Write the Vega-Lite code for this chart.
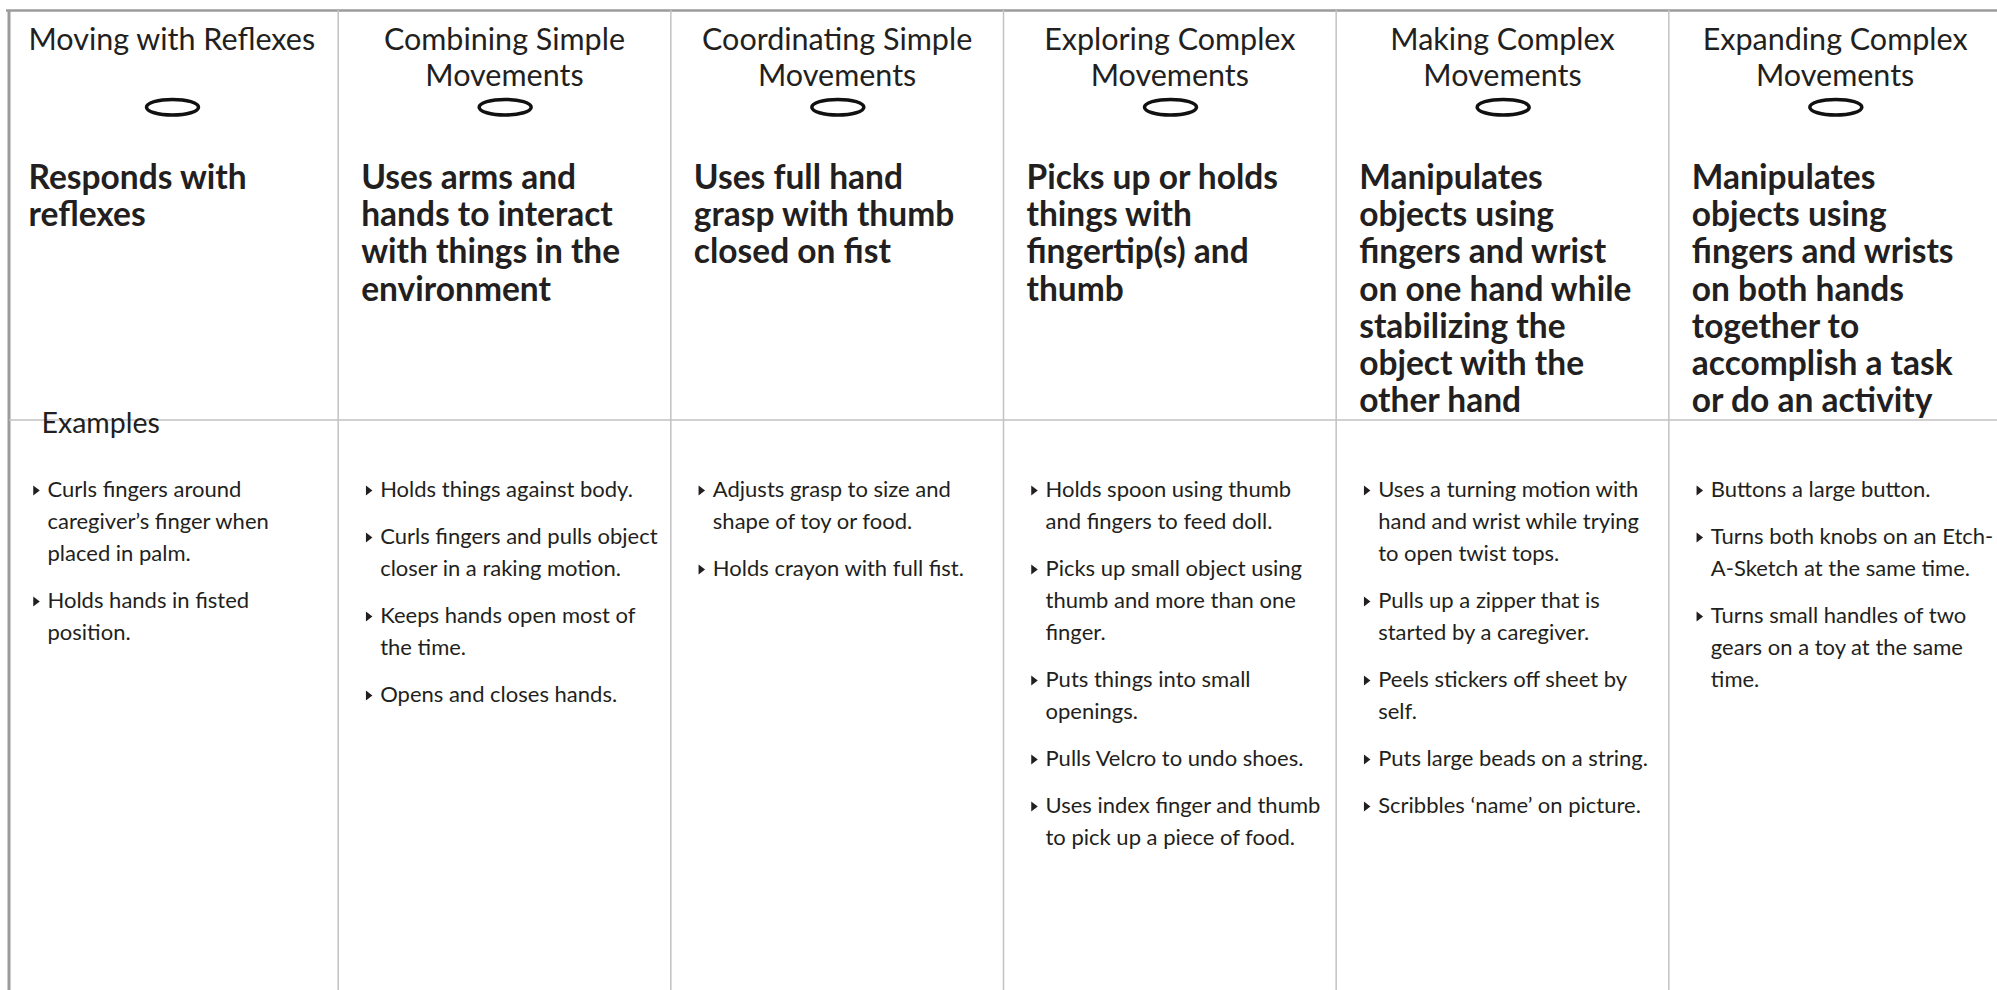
{
  "$schema": "https://vega.github.io/schema/vega-lite/v6.json",
  "width": 1988,
  "height": 980,
  "padding": {"left": 9, "top": 10, "right": 0, "bottom": 0},
  "autosize": {"type": "none"},
  "background": "white",
  "config": {
    "view": {"stroke": null},
    "axis": {"labels": false, "ticks": false, "grid": false, "title": null, "domainColor": "#9b9b9b", "domainWidth": 2.5}
  },
  "datasets": {
    "stages": [
      {"col": 1, "stage": "Moving with Reflexes"},
      {"col": 2, "stage": "Combining Simple Movements"},
      {"col": 3, "stage": "Coordinating Simple Movements"},
      {"col": 4, "stage": "Exploring Complex Movements"},
      {"col": 5, "stage": "Making Complex Movements"},
      {"col": 6, "stage": "Expanding Complex Movements"}
    ],
    "sections": [{"section": "Examples"}],
    "titles": [
      {"col": 1, "line": 1, "text": "Moving with Reflexes"},
      {"col": 2, "line": 1, "text": "Combining Simple"},
      {"col": 2, "line": 2, "text": "Movements"},
      {"col": 3, "line": 1, "text": "Coordinating Simple"},
      {"col": 3, "line": 2, "text": "Movements"},
      {"col": 4, "line": 1, "text": "Exploring Complex"},
      {"col": 4, "line": 2, "text": "Movements"},
      {"col": 5, "line": 1, "text": "Making Complex"},
      {"col": 5, "line": 2, "text": "Movements"},
      {"col": 6, "line": 1, "text": "Expanding Complex"},
      {"col": 6, "line": 2, "text": "Movements"}
    ],
    "statements": [
      {"col": 1, "line": 1, "text": "Responds with"},
      {"col": 1, "line": 2, "text": "reflexes"},
      {"col": 2, "line": 1, "text": "Uses arms and"},
      {"col": 2, "line": 2, "text": "hands to interact"},
      {"col": 2, "line": 3, "text": "with things in the"},
      {"col": 2, "line": 4, "text": "environment"},
      {"col": 3, "line": 1, "text": "Uses full hand"},
      {"col": 3, "line": 2, "text": "grasp with thumb"},
      {"col": 3, "line": 3, "text": "closed on fist"},
      {"col": 4, "line": 1, "text": "Picks up or holds"},
      {"col": 4, "line": 2, "text": "things with"},
      {"col": 4, "line": 3, "text": "fingertip(s) and"},
      {"col": 4, "line": 4, "text": "thumb"},
      {"col": 5, "line": 1, "text": "Manipulates"},
      {"col": 5, "line": 2, "text": "objects using"},
      {"col": 5, "line": 3, "text": "fingers and wrist"},
      {"col": 5, "line": 4, "text": "on one hand while"},
      {"col": 5, "line": 5, "text": "stabilizing the"},
      {"col": 5, "line": 6, "text": "object with the"},
      {"col": 5, "line": 7, "text": "other hand"},
      {"col": 6, "line": 1, "text": "Manipulates"},
      {"col": 6, "line": 2, "text": "objects using"},
      {"col": 6, "line": 3, "text": "fingers and wrists"},
      {"col": 6, "line": 4, "text": "on both hands"},
      {"col": 6, "line": 5, "text": "together to"},
      {"col": 6, "line": 6, "text": "accomplish a task"},
      {"col": 6, "line": 7, "text": "or do an activity"}
    ],
    "examples": [
      {"col": 1, "item": 0, "line": 0, "sub": 0, "text": "Curls fingers around"},
      {"col": 1, "item": 0, "line": 1, "sub": 1, "text": "caregiver’s finger when"},
      {"col": 1, "item": 0, "line": 2, "sub": 2, "text": "placed in palm."},
      {"col": 1, "item": 1, "line": 3, "sub": 0, "text": "Holds hands in fisted"},
      {"col": 1, "item": 1, "line": 4, "sub": 1, "text": "position."},
      {"col": 2, "item": 0, "line": 0, "sub": 0, "text": "Holds things against body."},
      {"col": 2, "item": 1, "line": 1, "sub": 0, "text": "Curls fingers and pulls object"},
      {"col": 2, "item": 1, "line": 2, "sub": 1, "text": "closer in a raking motion."},
      {"col": 2, "item": 2, "line": 3, "sub": 0, "text": "Keeps hands open most of"},
      {"col": 2, "item": 2, "line": 4, "sub": 1, "text": "the time."},
      {"col": 2, "item": 3, "line": 5, "sub": 0, "text": "Opens and closes hands."},
      {"col": 3, "item": 0, "line": 0, "sub": 0, "text": "Adjusts grasp to size and"},
      {"col": 3, "item": 0, "line": 1, "sub": 1, "text": "shape of toy or food."},
      {"col": 3, "item": 1, "line": 2, "sub": 0, "text": "Holds crayon with full fist."},
      {"col": 4, "item": 0, "line": 0, "sub": 0, "text": "Holds spoon using thumb"},
      {"col": 4, "item": 0, "line": 1, "sub": 1, "text": "and fingers to feed doll."},
      {"col": 4, "item": 1, "line": 2, "sub": 0, "text": "Picks up small object using"},
      {"col": 4, "item": 1, "line": 3, "sub": 1, "text": "thumb and more than one"},
      {"col": 4, "item": 1, "line": 4, "sub": 2, "text": "finger."},
      {"col": 4, "item": 2, "line": 5, "sub": 0, "text": "Puts things into small"},
      {"col": 4, "item": 2, "line": 6, "sub": 1, "text": "openings."},
      {"col": 4, "item": 3, "line": 7, "sub": 0, "text": "Pulls Velcro to undo shoes."},
      {"col": 4, "item": 4, "line": 8, "sub": 0, "text": "Uses index finger and thumb"},
      {"col": 4, "item": 4, "line": 9, "sub": 1, "text": "to pick up a piece of food."},
      {"col": 5, "item": 0, "line": 0, "sub": 0, "text": "Uses a turning motion with"},
      {"col": 5, "item": 0, "line": 1, "sub": 1, "text": "hand and wrist while trying"},
      {"col": 5, "item": 0, "line": 2, "sub": 2, "text": "to open twist tops."},
      {"col": 5, "item": 1, "line": 3, "sub": 0, "text": "Pulls up a zipper that is"},
      {"col": 5, "item": 1, "line": 4, "sub": 1, "text": "started by a caregiver."},
      {"col": 5, "item": 2, "line": 5, "sub": 0, "text": "Peels stickers off sheet by"},
      {"col": 5, "item": 2, "line": 6, "sub": 1, "text": "self."},
      {"col": 5, "item": 3, "line": 7, "sub": 0, "text": "Puts large beads on a string."},
      {"col": 5, "item": 4, "line": 8, "sub": 0, "text": "Scribbles ‘name’ on picture."},
      {"col": 6, "item": 0, "line": 0, "sub": 0, "text": "Buttons a large button."},
      {"col": 6, "item": 1, "line": 1, "sub": 0, "text": "Turns both knobs on an Etch-"},
      {"col": 6, "item": 1, "line": 2, "sub": 1, "text": "A-Sketch at the same time."},
      {"col": 6, "item": 2, "line": 3, "sub": 0, "text": "Turns small handles of two"},
      {"col": 6, "item": 2, "line": 4, "sub": 1, "text": "gears on a toy at the same"},
      {"col": 6, "item": 2, "line": 5, "sub": 2, "text": "time."}
    ]
  },
  "resolve": {"scale": {"y": "independent"}},
  "layer": [
    {
      "data": {"name": "stages"},
      "transform": [{"filter": "datum.col > 1"}],
      "mark": {"type": "rule", "color": "#c2c2c2", "strokeWidth": 1.5},
      "encoding": {
        "x": {"field": "col", "type": "quantitative", "scale": {"domain": [1, 7], "range": [-3.5, 1992.5], "nice": false, "zero": false}, "axis": {"orient": "top"}}
      }
    },
    {
      "data": {"name": "stages"},
      "transform": [{"filter": "datum.col == 1"}],
      "mark": {"type": "rule", "color": "#9b9b9b", "strokeWidth": 3, "xOffset": 3.5},
      "encoding": {
        "x": {"field": "col", "type": "quantitative", "axis": {"orient": "top"}}
      }
    },
    {
      "data": {"name": "sections"},
      "mark": {"type": "rule", "color": "#c2c2c2", "strokeWidth": 1.5},
      "encoding": {
        "y": {"field": "section", "type": "nominal", "scale": {"type": "point", "range": [410, 410]}, "axis": null}
      }
    },
    {
      "data": {"name": "sections"},
      "mark": {"type": "text", "align": "left", "baseline": "alphabetic", "font": "Lato", "fontSize": 28.5, "color": "#231f20", "xOffset": 36},
      "encoding": {
        "x": {"datum": 1, "type": "quantitative", "axis": {"orient": "top"}},
        "y": {"field": "section", "type": "nominal", "scale": {"type": "point", "range": [423, 423]}, "axis": null},
        "text": {"field": "section"}
      }
    },
    {
      "data": {"name": "titles"},
      "mark": {"type": "text", "align": "center", "baseline": "alphabetic", "font": "Lato", "fontSize": 30.5, "color": "#231f20", "xOffset": 166.3},
      "encoding": {
        "x": {"field": "col", "type": "quantitative", "axis": {"orient": "top"}},
        "y": {"field": "line", "type": "quantitative", "scale": {"domain": [1, 2], "range": [39.5, 75.5], "nice": false, "zero": false}, "axis": null},
        "text": {"field": "text"}
      }
    },
    {
      "data": {"name": "stages"},
      "mark": {"type": "point", "shape": "M -1 0 C -1 -0.166 -0.552 -0.3 0 -0.3 C 0.552 -0.3 1 -0.166 1 0 C 1 0.166 0.552 0.3 0 0.3 C -0.552 0.3 -1 0.166 -1 0 Z", "size": 2704, "filled": false, "stroke": "#111111", "strokeWidth": 3.5, "opacity": 1, "xOffset": 167},
      "encoding": {
        "x": {"field": "col", "type": "quantitative", "axis": {"orient": "top"}},
        "y": {"datum": 2.6, "type": "quantitative", "scale": {"domain": [1, 2], "range": [38, 75], "nice": false, "zero": false}, "axis": null}
      }
    },
    {
      "data": {"name": "statements"},
      "mark": {"type": "text", "align": "left", "baseline": "alphabetic", "font": "Lato", "fontWeight": "bold", "fontSize": 33.5, "color": "#231f20", "xOffset": 23},
      "encoding": {
        "x": {"field": "col", "type": "quantitative", "axis": {"orient": "top"}},
        "y": {"field": "line", "type": "quantitative", "scale": {"domain": [1, 7], "range": [179, 402], "nice": false, "zero": false}, "axis": null},
        "text": {"field": "text"}
      }
    },
    {
      "data": {"name": "examples"},
      "encoding": {
        "x": {"field": "col", "type": "quantitative", "axis": {"orient": "top"}},
        "y": {"field": "line", "type": "quantitative", "scale": {"domain": [0, 10], "range": [487, 807], "nice": false, "zero": false}, "axis": null}
      },
      "layer": [
        {"transform": [{"filter": "datum.item == 0"}], "mark": {"type": "text", "align": "left", "baseline": "alphabetic", "font": "Lato", "fontSize": 22, "color": "#231f20", "xOffset": 42, "dy": 0}, "encoding": {"text": {"field": "text"}}},
        {"transform": [{"filter": "datum.item == 1"}], "mark": {"type": "text", "align": "left", "baseline": "alphabetic", "font": "Lato", "fontSize": 22, "color": "#231f20", "xOffset": 42, "dy": 15}, "encoding": {"text": {"field": "text"}}},
        {"transform": [{"filter": "datum.item == 2"}], "mark": {"type": "text", "align": "left", "baseline": "alphabetic", "font": "Lato", "fontSize": 22, "color": "#231f20", "xOffset": 42, "dy": 30}, "encoding": {"text": {"field": "text"}}},
        {"transform": [{"filter": "datum.item == 3"}], "mark": {"type": "text", "align": "left", "baseline": "alphabetic", "font": "Lato", "fontSize": 22, "color": "#231f20", "xOffset": 42, "dy": 45}, "encoding": {"text": {"field": "text"}}},
        {"transform": [{"filter": "datum.item == 4"}], "mark": {"type": "text", "align": "left", "baseline": "alphabetic", "font": "Lato", "fontSize": 22, "color": "#231f20", "xOffset": 42, "dy": 60}, "encoding": {"text": {"field": "text"}}},
        {"transform": [{"filter": "datum.item == 0 && datum.sub == 0"}], "mark": {"type": "point", "shape": "M -0.65 -2.3 L 0.65 -1.3 L -0.65 -0.3 Z", "size": 100, "filled": true, "color": "#231f20", "opacity": 1, "xOffset": 31, "yOffset": 0}},
        {"transform": [{"filter": "datum.item == 1 && datum.sub == 0"}], "mark": {"type": "point", "shape": "M -0.65 -2.3 L 0.65 -1.3 L -0.65 -0.3 Z", "size": 100, "filled": true, "color": "#231f20", "opacity": 1, "xOffset": 31, "yOffset": 15}},
        {"transform": [{"filter": "datum.item == 2 && datum.sub == 0"}], "mark": {"type": "point", "shape": "M -0.65 -2.3 L 0.65 -1.3 L -0.65 -0.3 Z", "size": 100, "filled": true, "color": "#231f20", "opacity": 1, "xOffset": 31, "yOffset": 30}},
        {"transform": [{"filter": "datum.item == 3 && datum.sub == 0"}], "mark": {"type": "point", "shape": "M -0.65 -2.3 L 0.65 -1.3 L -0.65 -0.3 Z", "size": 100, "filled": true, "color": "#231f20", "opacity": 1, "xOffset": 31, "yOffset": 45}},
        {"transform": [{"filter": "datum.item == 4 && datum.sub == 0"}], "mark": {"type": "point", "shape": "M -0.65 -2.3 L 0.65 -1.3 L -0.65 -0.3 Z", "size": 100, "filled": true, "color": "#231f20", "opacity": 1, "xOffset": 31, "yOffset": 60}}
      ]
    }
  ]
}
